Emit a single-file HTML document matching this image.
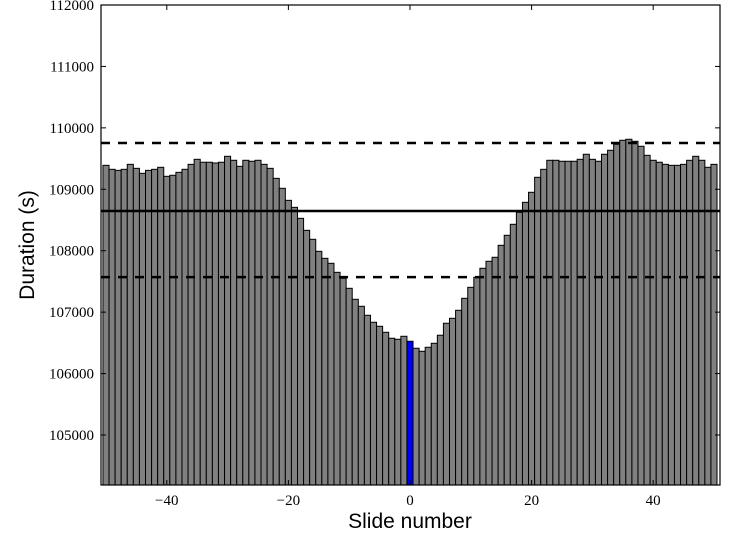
<!DOCTYPE html>
<html><head><meta charset="utf-8"><style>
body{margin:0;background:#fff;}
svg text{font-family:"Liberation Serif",serif;}
</style></head><body>
<svg id="chart" width="733" height="536" xmlns="http://www.w3.org/2000/svg">
<g id="bars"></g>
<g id="lines"></g>
<g id="axes"></g>
<text x="0" y="0" transform="translate(34,245) rotate(-90)" text-anchor="middle" font-size="21" style="font-family:'Liberation Sans',sans-serif">Duration (s)</text>
<text x="410" y="528" text-anchor="middle" font-size="21" style="font-family:'Liberation Sans',sans-serif">Slide number</text>
</svg>
<script>
const slides = [];
for (let i = -50; i <= 50; i++) slides.push(i);
const durations = [109390,109325,109308,109325,109406,109341,109260,109308,109325,109358,
109211,109228,109276,109325,109406,109488,109440,109440,109428,109440,
109537,109472,109374,109472,109456,109472,109406,109341,109178,109016,
108820,108706,108527,108332,108186,107990,107876,107795,107648,107551,
107388,107209,107095,106949,106835,106770,106672,106575,106558,106607,
106526,
106412,106363,106428,106493,106624,106819,106900,107030,107225,107404,
107567,107714,107828,107893,108088,108251,108430,108625,108788,108951,
109195,109325,109472,109472,109456,109456,109456,109488,109570,109488,
109456,109570,109635,109733,109798,109814,109781,109700,109553,109472,
109440,109406,109390,109390,109406,109472,109537,109472,109358,109406];
const highlightSlide = 0;
const meanValue = 108647;
const upperValue = 109753;
const lowerValue = 107570;
const xTicks = [-40,-20,0,20,40];
const yTicks = [105000,106000,107000,108000,109000,110000,111000,112000];

const L=101,R=720,T=5,B=485;
const X0=-50.82, X1=50.99, Y0=104186, Y1=112000;
const sx=v=>L+(v-X0)/(X1-X0)*(R-L);
const sy=v=>B-(v-Y0)/(Y1-Y0)*(B-T);
const NS="http://www.w3.org/2000/svg";
function mk(tag,attrs,parent){const e=document.createElementNS(NS,tag);for(const k in attrs)e.setAttribute(k,attrs[k]);parent.appendChild(e);return e;}
const gb=document.getElementById('bars');
slides.forEach((s,i)=>{
  const x=sx(s-0.5), w=sx(s+0.5)-x, y=sy(durations[i]);
  const r=mk('rect',{x:x,y:y,width:w,height:B-y,fill:s===highlightSlide?'#0000ff':'#808080',stroke:'#000','stroke-width':1},gb);
  
  
});
const gl=document.getElementById('lines');
const m=mk('line',{x1:L,x2:R,y1:sy(meanValue),y2:sy(meanValue),stroke:'#000','stroke-width':2.5},gl);


[[upperValue,'upper-dashed-line'],[lowerValue,'lower-dashed-line']].forEach(([v,n])=>{
  const d=mk('line',{x1:L,x2:R,y1:sy(v),y2:sy(v),stroke:'#000','stroke-width':2.5,'stroke-dasharray':'9,8'},gl);
  
  
});
const ga=document.getElementById('axes');
const fr=mk('rect',{x:L,y:T,width:R-L,height:B-T,fill:'none',stroke:'#000','stroke-width':1.2},ga);


xTicks.forEach(t=>{
  const x=sx(t);
  mk('line',{x1:x,x2:x,y1:B,y2:B-5,stroke:'#000'},ga);
  mk('line',{x1:x,x2:x,y1:T,y2:T+5,stroke:'#000'},ga);
  const tx=mk('text',{x:x,y:B+20,'text-anchor':'middle','font-size':15},ga);
  tx.textContent=(t<0?'\u2212':'')+Math.abs(t);
  
  
});
yTicks.forEach(t=>{
  const y=sy(t);
  mk('line',{x1:L,x2:L+5,y1:y,y2:y,stroke:'#000'},ga);
  mk('line',{x1:R,x2:R-5,y1:y,y2:y,stroke:'#000'},ga);
  const tx=mk('text',{x:L-7,y:y+5,'text-anchor':'end','font-size':15},ga);
  tx.textContent=t;
  
  
});
</script>
</body></html>
